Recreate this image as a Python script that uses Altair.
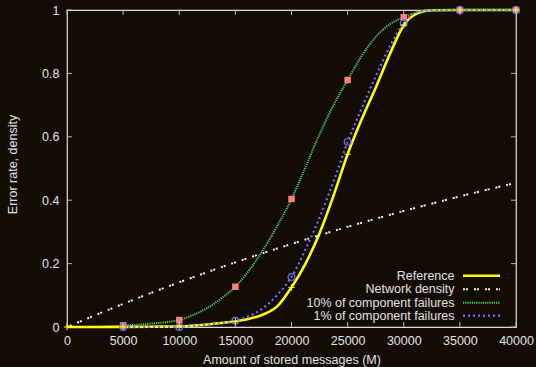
import altair as alt
import pandas as pd

# ---------------- data ----------------
ref_x = [0, 2500, 5000, 7500, 10000, 12500, 15000, 16250, 17500, 18750, 20000, 21250,
         22500, 23750, 25000, 26250, 27500, 28750, 30000, 31250, 32500, 35000, 37500, 40000]
ref_y = [0, 0, 0.0005, 0.001, 0.002, 0.008, 0.018, 0.026, 0.04, 0.066, 0.125, 0.2,
         0.296, 0.415, 0.545, 0.655, 0.755, 0.86, 0.952, 0.99, 0.999, 1, 1, 1]

net_x = [0, 5000, 10000, 15000, 20000, 25000, 30000, 35000, 40000]
net_y = [0, 0.073, 0.141, 0.204, 0.262, 0.316, 0.366, 0.412, 0.455]

f10_x = [5000, 6250, 7500, 8750, 10000, 11250, 12500, 13750, 15000, 16250, 17500, 18750,
         20000, 21250, 22500, 23750, 25000, 26250, 27500, 28750, 30000, 31250, 32500,
         33750, 35000, 37500, 40000]
f10_y = [0.005, 0.007, 0.011, 0.015, 0.022, 0.038, 0.06, 0.09, 0.127, 0.18, 0.245, 0.32,
         0.404, 0.505, 0.608, 0.70, 0.779, 0.855, 0.915, 0.955, 0.977, 0.993, 0.999,
         1, 1, 1, 1]

f1_x = [5000, 7500, 10000, 12500, 15000, 16250, 17500, 18750, 20000, 21250, 22500, 23750,
        25000, 26250, 27500, 28750, 30000, 31250, 32500, 35000, 37500, 40000]
f1_y = [0, 0, 0.001, 0.007, 0.02, 0.035, 0.06, 0.102, 0.158, 0.245, 0.345, 0.46,
        0.584, 0.69, 0.79, 0.885, 0.958, 0.995, 1, 1, 1, 1]

pts_x = [5000, 10000, 15000, 20000, 25000, 30000, 35000, 40000]
f10_pts = [0.005, 0.022, 0.127, 0.404, 0.779, 0.977, 1, 1]
f1_pts = [0, 0, 0.02, 0.158, 0.584, 0.958, 1, 1]

ref_pts_x = [0, 5000, 10000, 15000, 20000, 25000, 30000, 35000, 40000]
ref_pts_y = [0, 0, 0.002, 0.018, 0.125, 0.545, 0.952, 1, 1]

x_ticks = [0, 5000, 10000, 15000, 20000, 25000, 30000, 35000, 40000]
y_ticks = [0, 0.2, 0.4, 0.6, 0.8, 1]

series_names = ["Reference", "Network density", "10% of component failures",
                "1% of component failures"]

# ---------------- styling ----------------
BG = "#130c05"
FG = "#e2e2e2"
FONT = "Liberation Sans"
W, H = 449, 317
C_REF = "#ffff00"
C_NET = "#f0f0f0"
C_10 = "#52d052"
C_1 = "#7070ff"
C_SQ = "#ff8080"

xs = alt.Scale(domain=[0, 40000], nice=False, zero=False)
ys = alt.Scale(domain=[0, 1], nice=False, zero=False)

x_axis = alt.Axis(values=x_ticks, format="d", ticks=False, domain=False, grid=False,
                  labelFont=FONT, labelFontSize=12.5, labelColor=FG, labelPadding=7,
                  title="Amount of stored messages (M)", titleFont=FONT,
                  titleFontSize=12.5, titleFontWeight="normal", titleColor=FG,
                  titlePadding=6.5, labelFlush=False)
y_axis = alt.Axis(values=y_ticks, format="~g", ticks=False, domain=False, grid=False,
                  labelFont=FONT, labelFontSize=12.5, labelColor=FG, labelPadding=8,
                  title="Error rate, density", titleFont=FONT, titleFontSize=12.5,
                  titleFontWeight="normal", titleColor=FG, titleX=-55, titleY=154,
                  titleBaseline="middle", titleAlign="center", labelFlush=False)


def X():
    return alt.X("x:Q", scale=xs, axis=x_axis)


def Y():
    return alt.Y("y:Q", scale=ys, axis=y_axis)


def line(xv, yv, color, width, dash=None):
    df = pd.DataFrame({"x": xv, "y": yv})
    kw = dict(color=color, strokeWidth=width, interpolate="monotone")
    if dash:
        kw["strokeDash"] = dash
    return alt.Chart(df).mark_line(**kw).encode(x=X(), y=Y())


DASH_NET = [2, 1, 2, 6]
DASH_10 = [1.2, 1]
DASH_1 = [2, 3]

ref_line = line(ref_x, ref_y, C_REF, 2.6)
net_line = line(net_x, net_y, C_NET, 2, DASH_NET)
f10_line = line(f10_x, f10_y, C_10, 2, DASH_10)
f1_line = line(f1_x, f1_y, C_1, 2.2, DASH_1)

sq = alt.Chart(pd.DataFrame({"x": pts_x, "y": f10_pts})).mark_point(
    shape="square", filled=True, size=42, color=C_SQ, opacity=1).encode(x=X(), y=Y())
circ = alt.Chart(pd.DataFrame({"x": pts_x, "y": f1_pts})).mark_point(
    shape="circle", filled=False, size=45, color=C_1, strokeWidth=1.2, opacity=1).encode(x=X(), y=Y())
cross = alt.Chart(pd.DataFrame({"x": ref_pts_x, "y": ref_pts_y})).mark_point(
    shape="M-1,0L1,0M0,-1L0,1", filled=False, size=40, color=C_REF, strokeWidth=1,
    opacity=1).encode(x=X(), y=Y())

# ---------------- inward ticks on all four sides ----------------
xt = pd.DataFrame({"x": x_ticks})
yt = pd.DataFrame({"y": y_ticks})
TICK_C = "#b8b8b8"
tb = alt.Chart(xt).mark_rule(color=TICK_C, strokeWidth=1).encode(
    x=X(), y=alt.value(H), y2=alt.value(H - 5))
tt = alt.Chart(xt).mark_rule(color=TICK_C, strokeWidth=1).encode(
    x=X(), y=alt.value(0), y2=alt.value(5))
tl = alt.Chart(yt).mark_rule(color=TICK_C, strokeWidth=1).encode(
    y=Y(), x=alt.value(0), x2=alt.value(5))
tr = alt.Chart(yt).mark_rule(color=TICK_C, strokeWidth=1).encode(
    y=Y(), x=alt.value(W), x2=alt.value(W - 5))

# ---------------- gnuplot-style legend ----------------
leg_rows = [265.7, 279.3, 292.7, 305.7]
leg_styles = [(C_REF, 2.6, None), (C_NET, 2, DASH_NET), (C_10, 2, DASH_10), (C_1, 2.2, DASH_1)]
legend_layers = []
for name, ry, (col, wdt, dash) in zip(series_names, leg_rows, leg_styles):
    d = pd.DataFrame({"label": [name]})
    legend_layers.append(
        alt.Chart(d).mark_text(align="right", baseline="middle", font=FONT, fontSize=12.5,
                               color=FG).encode(text="label:N", x=alt.value(387.5),
                                                y=alt.value(ry)))
    kw = dict(color=col, strokeWidth=wdt)
    if dash:
        kw["strokeDash"] = dash
    legend_layers.append(
        alt.Chart(d).mark_rule(**kw).encode(x=alt.value(396), x2=alt.value(433),
                                            y=alt.value(ry)))

chart = alt.layer(
    tb, tt, tl, tr,
    ref_line, net_line, f10_line, f1_line,
    sq, circ, cross,
    *legend_layers,
).properties(
    width=W, height=H,
    background=BG,
    padding={"left": 67, "top": 10, "right": 20, "bottom": 40},
    autosize=alt.AutoSizeParams(type="none"),
).configure_view(
    stroke="#dcdcdc", strokeWidth=1.2, fill=BG
)

chart.save("out.html", embed_options={"renderer": "svg", "actions": False})
